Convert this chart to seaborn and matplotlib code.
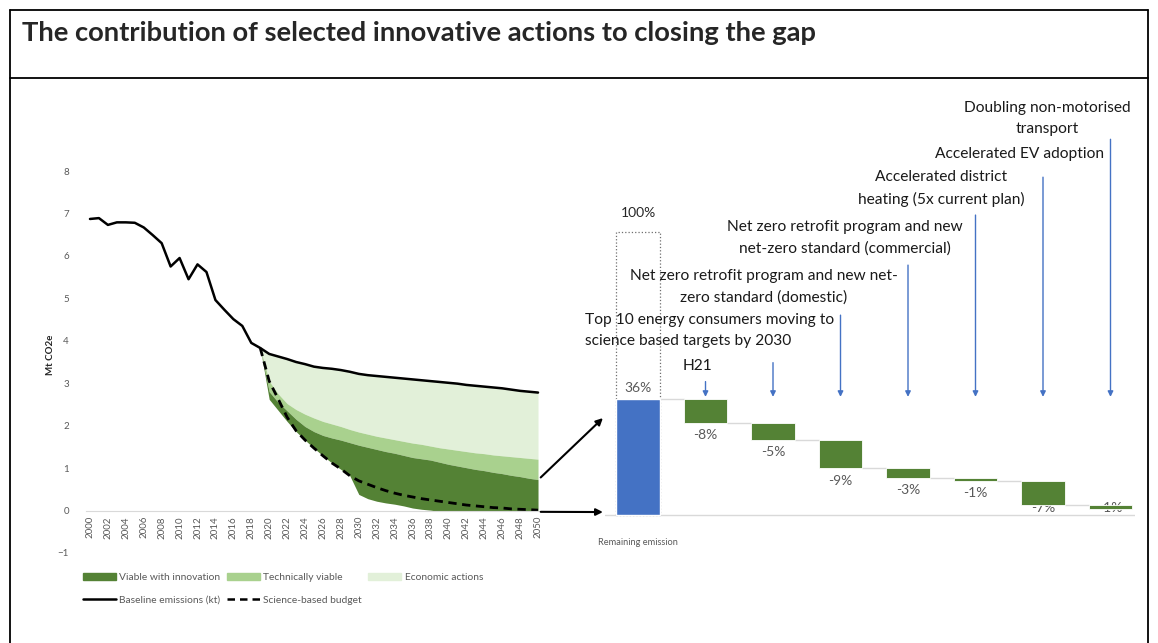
import matplotlib
matplotlib.use('Agg')
import matplotlib.pyplot as plt
from matplotlib.lines import Line2D
from matplotlib.patches import Patch
import seaborn as sns
import numpy as np

# ---------------- data ----------------
title = 'The contribution of selected innovative actions to closing the gap'

years = list(range(2000, 2051))
baseline = [6.87, 6.89, 6.73, 6.79, 6.79, 6.78, 6.67, 6.49, 6.30, 5.75,
            5.95, 5.45, 5.80, 5.62, 4.96, 4.73, 4.51, 4.35, 3.95, 3.83,
            3.69, 3.63, 3.57, 3.50, 3.45, 3.39, 3.36, 3.34, 3.31, 3.27,
            3.22, 3.19, 3.17, 3.15, 3.13, 3.11, 3.09, 3.07, 3.05, 3.03,
            3.01, 2.99, 2.96, 2.94, 2.92, 2.90, 2.88, 2.85, 2.82, 2.80,
            2.78]

# emissions left after each group of actions (2019-2050)
scen_years = list(range(2019, 2051))
after_economic = [3.83, 3.05, 2.75, 2.52, 2.38, 2.27, 2.18, 2.10, 2.04, 1.98,
                  1.91, 1.85, 1.80, 1.75, 1.71, 1.67, 1.63, 1.59, 1.56, 1.52,
                  1.48, 1.45, 1.42, 1.39, 1.36, 1.34, 1.31, 1.29, 1.27, 1.25,
                  1.23, 1.21]
after_technical = [3.83, 2.80, 2.55, 2.35, 2.15, 1.98, 1.86, 1.77, 1.71, 1.66,
                   1.60, 1.54, 1.49, 1.44, 1.39, 1.35, 1.30, 1.25, 1.22, 1.19,
                   1.14, 1.09, 1.05, 1.01, 0.97, 0.94, 0.90, 0.87, 0.83, 0.80,
                   0.76, 0.73]
after_innovation = [3.83, 2.62, 2.36, 2.10, 1.86, 1.66, 1.47, 1.29, 1.12, 0.97,
                    0.82, 0.38, 0.28, 0.22, 0.18, 0.15, 0.11, 0.06, 0.03, 0.01,
                    -0.02, 0.0, 0.0, 0.0, 0.0, 0.0, 0.0, 0.0, 0.0, 0.0,
                    0.0, 0.0]
science_budget = [3.83, 3.05, 2.63, 2.20, 1.88, 1.66, 1.47, 1.29, 1.12, 0.98,
                  0.82, 0.70, 0.62, 0.54, 0.47, 0.41, 0.36, 0.32, 0.28, 0.25,
                  0.22, 0.19, 0.16, 0.13, 0.11, 0.09, 0.07, 0.06, 0.04, 0.03,
                  0.02, 0.01]

legend_labels = ['Viable with innovation', 'Baseline emissions (kt)',
                 'Technically viable', 'Science-based budget', 'Economic actions']

# waterfall (bar heights in chart units, full box = 100)
total_share = 100
total_label = '100%'
remaining_share = 41.0
remaining_label = '36%'
remaining_name = 'Remaining emission'
action_names = ['H21',
                'Top 10 energy consumers moving to\nscience based targets by 2030',
                'Net zero retrofit program and new net-\nzero standard (domestic)',
                'Net zero retrofit program and new\nnet-zero standard (commercial)',
                'Accelerated district\nheating (5x current plan)',
                'Accelerated EV adoption',
                'Doubling non-motorised\ntransport']
action_share = [8.3, 6.1, 10.1, 3.4, 0.9, 8.5, 1.4]
action_labels = ['-8%', '-5%', '-9%', '-3%', '-1%', '-7%', '-1%']

# ---------------- style ----------------
DARK = '#548235'
MID = '#A9D18E'
LIGHT = '#E2F0D9'
BLUE = '#4472C4'
GREY = '#595959'
LINEGREY = '#d9d9d9'

sns.set_style('white')
plt.rcParams['font.family'] = ['Lato', 'DejaVu Sans']

W, H = 1158, 643
fig = plt.figure(figsize=(W / 100, H / 100), dpi=100)


def px_box(x0, y0, x1, y1):
    return [x0 / W, 1 - y1 / H, (x1 - x0) / W, (y1 - y0) / H]


# frame of the table cell
for xs, ys in [([10, 10], [10, H]), ([1148, 1148], [10, H]),
               ([10, 1148], [10, 10]), ([10, 1148], [78, 78])]:
    fig.add_artist(Line2D([x / W for x in xs], [1 - y / H for y in ys],
                          color='black', lw=1.3, transform=fig.transFigure))

fig.text(22 / W, 1 - 33 / H, title, fontsize=19.7, fontweight='bold',
         ha='left', va='center')

# ---------------- left: emissions pathway ----------------
ax = fig.add_axes(px_box(85.5, 171, 542.5, 553))
base_scen = baseline[scen_years[0] - years[0]:]
ax.fill_between(scen_years, after_economic, base_scen, color=LIGHT, lw=0)
ax.fill_between(scen_years, after_technical, after_economic, color=MID, lw=0)
ax.fill_between(scen_years, after_innovation, after_technical, color=DARK, lw=0)
sns.lineplot(x=years, y=baseline, color='black', lw=1.8, ax=ax)
sns.lineplot(x=scen_years, y=science_budget, color='black', lw=2,
             linestyle=(0, (3, 2)), ax=ax)

for s in ['top', 'right', 'left']:
    ax.spines[s].set_visible(False)
ax.spines['bottom'].set_position(('data', 0))
ax.spines['bottom'].set_color(LINEGREY)
ax.set_xlim(1999.5, 2050.5)
ax.set_ylim(-1, 8)
ax.set_xticks(range(2000, 2051, 2))
ax.set_xticklabels([str(y) for y in range(2000, 2051, 2)])
ax.set_yticks(range(-1, 9))
ax.tick_params(axis='both', length=0, labelsize=7, labelcolor=GREY)
ax.tick_params(axis='x', pad=4, labelrotation=90)
ax.tick_params(axis='y', pad=12)
ax.set_xlabel('')
ax.set_ylabel('Mt CO2e', fontsize=7, fontweight='bold')
ax.yaxis.set_label_coords(-0.0667, 0.518)

handles = [Patch(color=DARK), Line2D([], [], color='black', lw=1.8),
           Patch(color=MID), Line2D([], [], color='black', lw=1.8, ls=(0, (3, 2))),
           Patch(color=LIGHT)]
leg = fig.legend(handles, legend_labels, ncol=3, loc='upper left',
                 bbox_to_anchor=(83 / W, 1 - 573 / H), frameon=False, fontsize=7.4,
                 handlelength=3.2, handleheight=0.7, handletextpad=0.35,
                 columnspacing=0.6, labelspacing=1.3, borderpad=0, borderaxespad=0)
for t in leg.get_texts():
    t.set_color(GREY)

# ---------------- right: waterfall ----------------
ax2 = fig.add_axes(px_box(605, 100, 1135, 560))
ax2.set_xlim(-0.489, 7.363)
ax2.set_ylim(-15.9, 146.8)
ax2.axis('off')
ax2.axhline(0, color=LINEGREY, lw=1, zorder=1)

bw = 0.65
ax2.bar(0, total_share, width=bw, fill=False, edgecolor='#6f6f6f',
        linestyle=':', lw=0.9, zorder=2)
ax2.bar(0, remaining_share, width=bw, color=BLUE, zorder=3)

levels = [remaining_share]
for s in action_share:
    levels.append(levels[-1] - s)
pos = np.arange(1, len(action_share) + 1)
ax2.bar(pos, action_share, bottom=levels[1:], width=bw, color=DARK,
        edgecolor='white', lw=0.6, zorder=3)
for i in range(len(action_share)):
    ax2.plot([i + bw / 2, i + 1 - bw / 2], [levels[i], levels[i]],
             color=LINEGREY, lw=1, zorder=2)

ax2.text(0, total_share + 7, total_label, ha='center', va='center',
         fontsize=10, color='#262626')
ax2.text(0, remaining_share + 3.9, remaining_label, ha='center', va='center',
         fontsize=10, color=GREY)
ax2.text(0, -9.6, remaining_name, ha='center', va='center', fontsize=6.7,
         color=GREY)
for i, lab in enumerate(action_labels):
    ax2.text(pos[i], max(levels[i + 1] - 4.3, 2.6), lab, ha='center',
             va='center', fontsize=10, color=GREY, zorder=2)

# action captions and arrows
text_pos = [(0.874, 52.7, 'center'), (-0.785, 65.15, 'left'),
            (1.867, 80.8, 'center'), (3.067, 97.9, 'center'),
            (4.496, 115.5, 'center'), (6.904, 127.7, 'right'),
            (6.07, 140.3, 'center')]
arrow_top = [47.2, 53.9, 70.7, 88.4, 106.1, 119.5, 132.9]
for i, name in enumerate(action_names):
    tx, ty, ha = text_pos[i]
    ax2.text(tx, ty, name, ha=ha, va='center', multialignment=ha,
             fontsize=11.2, color='#1a1a1a', linespacing=1.65)
    ax2.annotate('', xy=(pos[i], 41.8), xytext=(pos[i], arrow_top[i]),
                 arrowprops=dict(arrowstyle='-|>', color=BLUE, lw=1,
                                 mutation_scale=8, shrinkA=0, shrinkB=0))

# arrows linking the two panels
ax2.annotate('', xy=(-0.52, 34.3), xytext=(2050.3, 0.78),
             textcoords=ax.transData, annotation_clip=False,
             arrowprops=dict(arrowstyle='-|>', color='black', lw=1.5,
                             mutation_scale=10, shrinkA=0, shrinkB=0))
ax2.annotate('', xy=(-0.52, 1.06), xytext=(2050.3, -0.03),
             textcoords=ax.transData, annotation_clip=False,
             arrowprops=dict(arrowstyle='-|>', color='black', lw=1.5,
                             mutation_scale=10, shrinkA=0, shrinkB=0))

fig.savefig('out.png', dpi=100)
